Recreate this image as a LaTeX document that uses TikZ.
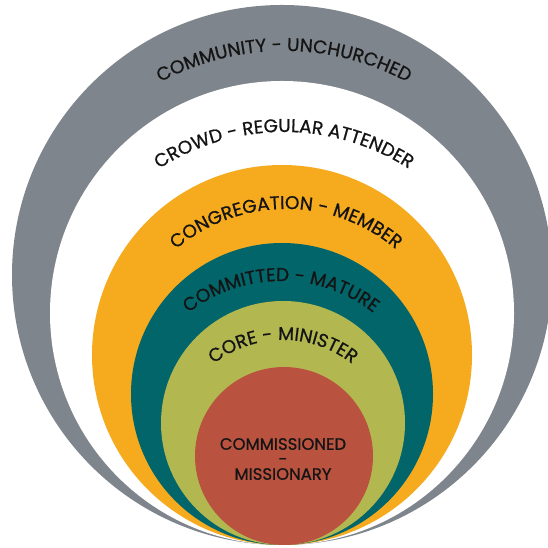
\documentclass[tikz,border=0pt]{standalone}
\usepackage{fontspec}
\setmainfont{Poppins}
\newfontfamily\ringface{Poppins}[FakeBold=0.7]
\usetikzlibrary{decorations.text}

\definecolor{ringgray}{HTML}{7F858C}
\definecolor{ringorange}{HTML}{F6AB1F}
\definecolor{ringteal}{HTML}{02656A}
\definecolor{ringolive}{HTML}{B2B74F}
\definecolor{ringred}{HTML}{B95340}
\definecolor{inktext}{HTML}{141414}

\newcommand\ringfont{\ringface\fontsize{16.5}{17}\selectfont\color{inktext}}
\newcommand\arcfont{\ringface\fontsize{18.5}{19}\selectfont}

\tikzset{
  ringlabel/.style={decorate,decoration={text effects along path,text={#1},text align=center,
    text effects/.cd,text along path,characters={font=\arcfont,text=inktext},
    character widths={font=\arcfont,inner xsep=0pt}}}
}

\begin{document}
\begin{tikzpicture}[x=1pt,y=1pt]
  \useasboundingbox (0,0) rectangle (548,548);
  \fill[white] (0,0) rectangle (548,548);
  % rings, all touching at the bottom
  \fill[ringgray]   (282,273) circle[radius=270];
  \fill[white]      (282,235) circle[radius=232];
  \fill[ringorange] (282,193) circle[radius=190];
  \fill[ringteal]   (282,154) circle[radius=151];
  \fill[ringolive]  (283,125) circle[radius=122];
  \fill[ringred]    (284,92)  circle[radius=89];
  % curved names
  \path[ringlabel={COMMUNITY - UNCHURCHED}] (284,237) ++(150:260) arc[start angle=150,end angle=30,radius=260];
  \path[ringlabel={CROWD - REGULAR ATTENDER}] (284,186) ++(150:230) arc[start angle=150,end angle=30,radius=230];
  \path[ringlabel={CONGREGATION - MEMBER}] (286,169) ++(150:170) arc[start angle=150,end angle=30,radius=170];
  \path[ringlabel={COMMITTED - MATURE}] (281,117) ++(150:150) arc[start angle=150,end angle=30,radius=150];
  \path[ringlabel={CORE - MINISTER}] (283,96) ++(150:112) arc[start angle=150,end angle=30,radius=112];
  % centre
  \node[align=center,font=\ringfont,inner sep=0pt] (core) at (283,89) {COMMISSIONED\\[-2pt]-\\[-2pt]MISSIONARY};
\end{tikzpicture}
\end{document}
